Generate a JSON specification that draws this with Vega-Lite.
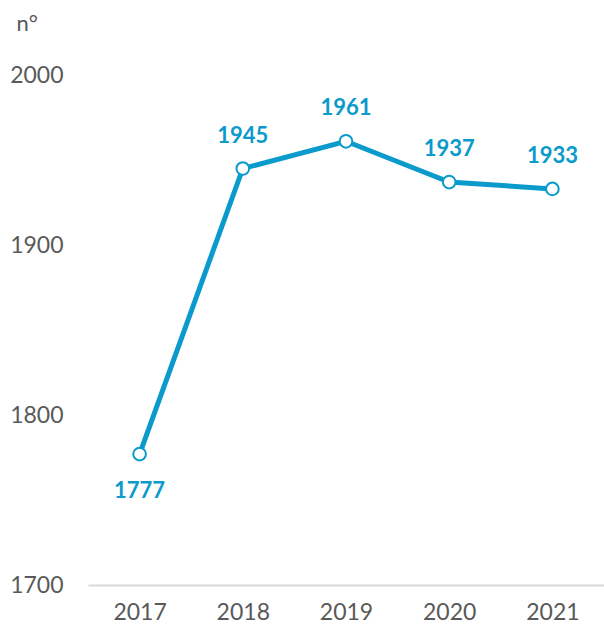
{
  "$schema": "https://vega.github.io/schema/vega-lite/v6.json",
  "autosize": "none",
  "width": 516,
  "height": 510,
  "padding": {"left": 88, "top": 75, "right": 0, "bottom": 47},
  "background": "white",
  "config": {"view": {"stroke": null}},
  "data": {"values": [
    {"year": "2017", "value": 1777, "pos": "below"},
    {"year": "2018", "value": 1945, "pos": "above"},
    {"year": "2019", "value": 1961, "pos": "above"},
    {"year": "2020", "value": 1937, "pos": "above"},
    {"year": "2021", "value": 1933, "pos": "above"}
  ]},
  "encoding": {
    "x": {"field": "year", "type": "ordinal", "scale": {"type": "point", "padding": 0.5},
      "axis": {"title": null, "domain": true, "domainColor": "#d9d9d9", "domainWidth": 2, "ticks": false,
        "labelFont": "Lato", "labelFontSize": 23, "labelColor": "#595959", "labelPadding": 16, "labelAngle": 0}},
    "y": {"field": "value", "type": "quantitative", "scale": {"domain": [1700, 2000], "nice": false, "zero": false},
      "axis": {"values": [1700, 1800, 1900, 2000], "format": "d", "domain": false, "ticks": false, "grid": false,
        "labelFont": "Lato", "labelFontSize": 23, "labelColor": "#595959", "labelPadding": 25,
        "title": "n°", "titleAngle": 0, "titleX": -72, "titleY": -52, "titleAlign": "left", "titleBaseline": "middle",
        "titleFont": "Lato", "titleFontSize": 22, "titleFontWeight": "normal", "titleColor": "#595959"}}
  },
  "layer": [
    {"mark": {"type": "line", "color": "#0a9acb", "strokeWidth": 5}},
    {"mark": {"type": "point", "filled": true, "fill": "white", "stroke": "#0a9acb", "strokeWidth": 2, "size": 160, "opacity": 1}},
    {"transform": [{"filter": "datum.pos == 'above'"}],
      "mark": {"type": "text", "dy": -33, "font": "Lato", "fontSize": 22, "fontWeight": "bold", "color": "#0a9acb"},
      "encoding": {"text": {"field": "value", "type": "quantitative", "format": "d"}}},
    {"transform": [{"filter": "datum.pos == 'below'"}],
      "mark": {"type": "text", "dy": 37, "font": "Lato", "fontSize": 22, "fontWeight": "bold", "color": "#0a9acb"},
      "encoding": {"text": {"field": "value", "type": "quantitative", "format": "d"}}}
  ]
}
